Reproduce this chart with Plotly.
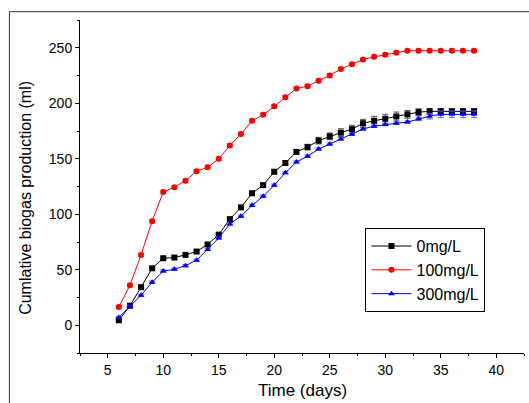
import plotly.graph_objects as go

days = list(range(6, 39))

biogas_0 = [4.5, 17.6, 34.3, 51.3, 60.4, 61.0, 63.4, 66.4, 72.8, 81.6, 95.6, 106.2,
            118.9, 126.2, 138.3, 146.2, 156.2, 160.5, 166.3, 170.2, 173.5, 176.6,
            182.0, 184.2, 186.0, 188.1, 190.0, 192.0, 192.7, 192.7, 192.7, 192.7, 192.7]
err_0 = [1.0, 1.0, 1.2, 1.2, 1.2, 1.2, 1.2, 1.2, 1.5, 1.5, 1.5, 1.5,
         1.8, 1.8, 1.8, 2.0, 2.0, 2.5, 3.0, 3.0, 3.5, 3.5,
         3.5, 4.0, 4.0, 4.0, 3.5, 3.0, 2.5, 2.5, 2.5, 2.5, 2.5]

biogas_100 = [16.4, 36.1, 63.4, 93.8, 120.1, 124.4, 130.2, 138.7, 142.3, 149.9, 162.0,
              172.3, 184.2, 189.6, 197.2, 205.4, 213.3, 215.4, 220.3, 225.1, 230.9,
              235.1, 239.4, 241.8, 243.6, 245.4, 247.3, 247.3, 247.3, 247.3, 247.3,
              247.3, 247.3]
err_100 = [1.5] * len(days)

biogas_300 = [7.0, 17.0, 27.0, 38.8, 48.8, 50.4, 53.7, 58.6, 68.3, 78.6, 91.3, 98.3,
              108.0, 116.2, 126.2, 137.4, 147.1, 152.3, 158.7, 163.2, 167.8, 172.0,
              176.9, 179.3, 180.8, 182.0, 183.0, 186.0, 188.4, 190.0, 190.0, 190.0, 190.0]
err_300 = [1.0] * 27 + [1.5, 2.5, 3.0, 3.0, 3.0, 3.0]

series = [
    ("0mg/L", biogas_0, err_0, "#000000", "#555555", "square"),
    ("100mg/L", biogas_100, err_100, "#FF0000", "#FF6060", "circle"),
    ("300mg/L", biogas_300, err_300, "#0000FF", "#5A5AFF", "triangle-up"),
]

FONT = "Liberation Sans, Arial, sans-serif"

fig = go.Figure()
for name, vals, errs, color, ecolor, symbol in series:
    fig.add_trace(go.Scatter(
        x=days, y=vals, name=name, mode="lines+markers",
        line=dict(color=color, width=1),
        marker=dict(symbol=symbol, size=6, color=color),
        error_y=dict(type="data", array=errs, visible=True,
                     color=ecolor, thickness=1, width=3),
    ))

fig.update_layout(
    width=529, height=403,
    margin=dict(l=80, r=5, t=20, b=50),
    paper_bgcolor="white", plot_bgcolor="white",
    font=dict(family=FONT, size=14, color="#000000"),
    showlegend=True,
    legend=dict(
        x=0.643, y=0.375, xanchor="left", yanchor="top",
        bordercolor="#000000", borderwidth=1, bgcolor="white",
        font=dict(family=FONT, size=16, color="#000000"),
        tracegroupgap=0, itemwidth=40,
    ),
    xaxis=dict(
        range=[2.5, 42.5], tickmode="linear", tick0=5, dtick=5,
        showgrid=False, zeroline=False,
        showline=True, linecolor="#000000", linewidth=1,
        ticks="outside", ticklen=4, tickcolor="#000000",
        minor=dict(ticks="outside", ticklen=2, dtick=2.5, tick0=2.5, tickcolor="#000000"),
        tickfont=dict(size=14),
    ),
    yaxis=dict(
        range=[-25, 275], tickmode="linear", tick0=0, dtick=50,
        showgrid=False, zeroline=False,
        showline=True, linecolor="#000000", linewidth=1,
        ticks="outside", ticklen=4, tickcolor="#000000",
        minor=dict(ticks="outside", ticklen=2, dtick=25, tick0=-25, tickcolor="#000000"),
        tickfont=dict(size=14),
    ),
    annotations=[
        dict(text="Time (days)", xref="paper", yref="paper", x=0.5, y=-0.148,
             xanchor="center", yanchor="bottom", showarrow=False,
             font=dict(family=FONT, size=17, color="#000000")),
        dict(text="Cumlative biogas production (ml)", xref="paper", yref="paper",
             x=-0.1216, y=0.466, xanchor="center", yanchor="middle", textangle=-90,
             showarrow=False, font=dict(family=FONT, size=16, color="#000000")),
    ],
    shapes=[
        dict(type="line", xref="paper", yref="paper", x0=-0.159, x1=1.05,
             y0=1.025, y1=1.025, line=dict(color="#333333", width=1)),
        dict(type="line", xref="paper", yref="paper", x0=-0.159, x1=-0.159,
             y0=1.025, y1=-0.2, line=dict(color="#333333", width=1)),
    ],
)

fig.write_html("out.html")
